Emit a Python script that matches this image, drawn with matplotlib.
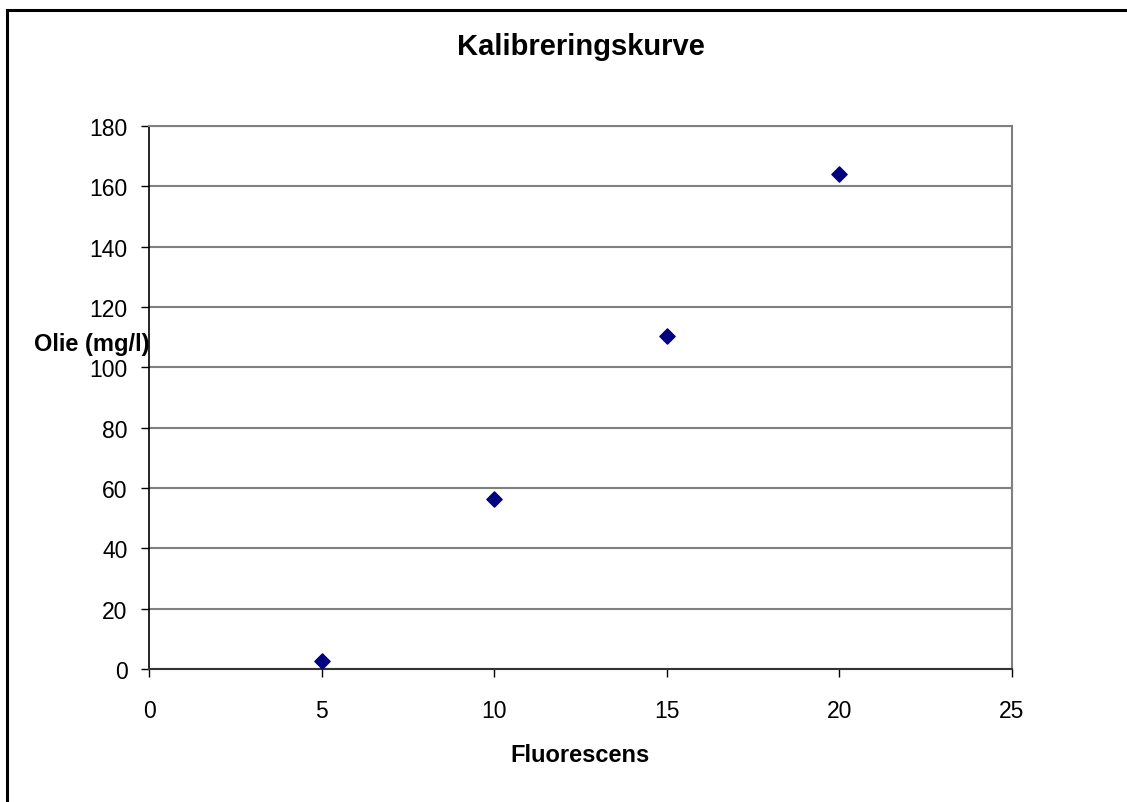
import matplotlib.pyplot as plt
from matplotlib.patches import Rectangle

plt.rcParams['font.family'] = ['Liberation Sans', 'DejaVu Sans']

fluorescens = [5, 10, 15, 20]
olie = [2.7, 56.5, 110.5, 164]

fig = plt.figure(figsize=(11.27, 8.03), dpi=100)
ax = fig.add_axes([149 / 1127, 1 - 670 / 803, (1012 - 149) / 1127, (670 - 127) / 803])

# chart border (left and top edge show)
fig.patches.append(Rectangle((7 / 1127, -0.05), 1.1, 1 - 11 / 803 + 0.05,
                             transform=fig.transFigure, fill=False,
                             edgecolor='black', linewidth=2.2))

ax.scatter(fluorescens, olie, marker='D', s=60, color='#000080', zorder=3)

ax.set_xlim(0, 25)
ax.set_ylim(0, 180)
ax.set_xticks(range(0, 26, 5))
ax.set_yticks(range(0, 181, 20))
ax.yaxis.grid(True, color='#808080', linewidth=1.5)
ax.set_axisbelow(True)

ax.spines['left'].set_color('black')
ax.spines['left'].set_linewidth(1.2)
ax.spines['bottom'].set_color('#333333')
ax.spines['bottom'].set_linewidth(1.5)
ax.spines['top'].set_color('#808080')
ax.spines['top'].set_linewidth(1.5)
ax.spines['right'].set_color('#808080')
ax.spines['right'].set_linewidth(1.5)
ax.tick_params(direction='out', length=5.5, width=1, labelsize=16.5)
ax.tick_params(axis='y', pad=10)
ax.tick_params(axis='x', pad=16)

ax.set_title('Kalibreringskurve', fontsize=21, fontweight='bold', pad=52)
ax.set_xlabel('Fluorescens', fontsize=17, fontweight='bold', labelpad=15)
ax.set_ylabel('Olie (mg/l)', fontsize=17, fontweight='bold', rotation=0)
ax.yaxis.set_label_coords(0.0, 0.6, transform=ax.transAxes)
ax.yaxis.label.set_ha('right')
ax.yaxis.label.set_va('center')

fig.savefig('out.png', dpi=100)
